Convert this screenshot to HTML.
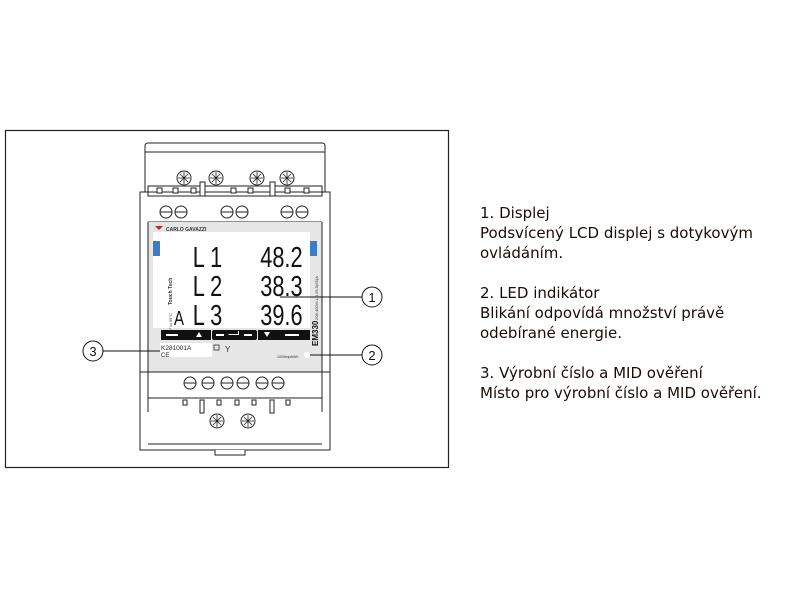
<!DOCTYPE html>
<html><head><meta charset="utf-8"><style>
body{margin:0;background:#fff;width:800px;height:600px;overflow:hidden}
.t{position:absolute;left:480px;font-family:"DejaVu Sans",sans-serif;font-size:15px;color:#1a0c08;line-height:20px;white-space:nowrap}
</style></head><body>
<svg width="800" height="600" style="position:absolute;left:0;top:0" font-family="Liberation Sans, sans-serif">
<rect x="5.5" y="130.5" width="443" height="337" fill="none" stroke="#222" stroke-width="1.2"/>
<g stroke="#222" stroke-width="1" fill="#fff">
<path d="M145 192 V146 Q145 143 148 143 H322 Q325 143 325 146 V192"/>
<line x1="145" y1="152" x2="325" y2="152"/>
<path d="M140 192 V450 H330 V192 Z" fill="none"/>
<rect x="148" y="186" width="174" height="10" fill="#fff"/>
<line x1="148" y1="196" x2="322" y2="196"/>
<line x1="148" y1="222" x2="322" y2="222"/>
<line x1="140" y1="192" x2="330" y2="192"/>
<g fill="#fff"><circle cx="184" cy="178" r="7"/><circle cx="216" cy="178" r="7"/><circle cx="257" cy="178" r="7"/><circle cx="287" cy="178" r="7"/></g>
<g stroke-width="0.8"><path d="M178 178h12M184 172v12M180 174l8 8M188 174l-8 8"/><path d="M210 178h12M216 172v12M212 174l8 8M220 174l-8 8"/><path d="M251 178h12M257 172v12M253 174l8 8M261 174l-8 8"/><path d="M281 178h12M287 172v12M283 174l8 8M291 174l-8 8"/></g>
<g fill="#fff"><rect x="157" y="188" width="5" height="5"/><rect x="173" y="188" width="5" height="5"/><rect x="191" y="188" width="5" height="5"/><rect x="200" y="182" width="5" height="14"/><rect x="231" y="188" width="5" height="5"/><rect x="248" y="188" width="5" height="5"/><rect x="270" y="182" width="5" height="14"/><rect x="285" y="188" width="5" height="5"/><rect x="304" y="188" width="5" height="5"/></g>
<g fill="#fff"><circle cx="166" cy="212" r="6"/><circle cx="181" cy="212" r="6"/><circle cx="227" cy="212" r="6"/><circle cx="242" cy="212" r="6"/><circle cx="287" cy="212" r="6"/><circle cx="302" cy="212" r="6"/></g>
<path d="M160 212h12M175 212h12M221 212h12M236 212h12M281 212h12M296 212h12"/>
<rect x="148" y="222" width="174" height="150" fill="#e6e6e6" stroke="none"/>
<line x1="148" y1="222" x2="148" y2="372"/><line x1="322" y1="222" x2="322" y2="372"/>
<line x1="140" y1="372" x2="330" y2="372"/>
</g>
<rect x="153" y="232" width="157" height="96" fill="#fff"/>
<path d="M155 226 l4 4 l4 -4z" fill="#c0282c"/>
<text x="166" y="231" font-size="5" font-weight="bold" fill="#333">CARLO GAVAZZI</text>
<rect x="153" y="241" width="7" height="15" fill="#3a7cc6"/>
<rect x="310" y="241" width="7" height="15" fill="#3a7cc6"/>
<g font-family="Liberation Sans Narrow, Liberation Sans, sans-serif" font-size="29" fill="#111" transform="scale(0.75,1)">
<text x="257" y="267">L 1</text><text x="257" y="296">L 2</text><text x="257" y="325">L 3</text>
<text x="347" y="267">48.2</text><text x="347" y="296">38.3</text><text x="347" y="325">39.6</text>
<text x="232" y="325" font-size="20">A</text>
</g>
<text transform="translate(172,305) rotate(-90)" font-size="5" font-weight="bold" fill="#333">Touch Tech</text>
<text transform="translate(172,335) rotate(-90)" font-size="4" fill="#333">-25° to 55°C</text>
<text transform="translate(318,320) rotate(-90)" font-size="4" fill="#333">208-400VLL 0.25-5(65)A</text>
<text transform="translate(318,346) rotate(-90)" font-size="8" font-weight="bold" fill="#111">EM330</text>
<rect x="161" y="330" width="50" height="10" fill="#111"/>
<rect x="212" y="330" width="45" height="10" fill="#111" rx="2"/>
<rect x="258" y="330" width="52" height="10" fill="#111"/>
<g fill="#fff"><rect x="166" y="334" width="12" height="2"/><rect x="216" y="334" width="8" height="2"/><rect x="244" y="334" width="8" height="2"/><rect x="285" y="334" width="14" height="2"/>
<path d="M196 337l3-5l3 5z"/><path d="M264 332l3 5l3-5z"/><path d="M228 334h10v-3h1v4h-10z"/></g>
<rect x="160" y="343" width="52" height="14" fill="#fff"/>
<text x="161" y="350" font-size="6.5" fill="#222">K281001A</text>
<text x="161" y="357" font-size="6" fill="#222">CE</text>
<rect x="214" y="345" width="5" height="5" fill="none" stroke="#333" stroke-width="0.8"/>
<text x="225" y="352" font-size="8" fill="#333">Y</text>
<text x="277" y="358" font-size="3.5" fill="#333">1000imp/kWh</text>
<circle cx="307" cy="355" r="3" fill="#fff"/>
<g stroke="#222" stroke-width="1" fill="#fff">
<g><circle cx="190" cy="383" r="6"/><circle cx="208" cy="383" r="6"/><circle cx="227" cy="383" r="6"/><circle cx="243" cy="383" r="6"/><circle cx="262" cy="383" r="6"/><circle cx="278" cy="383" r="6"/></g>
<path d="M184 383h12M202 383h12M221 383h12M237 383h12M256 383h12M272 383h12"/>
<line x1="148" y1="398" x2="322" y2="398"/>
<line x1="148" y1="372" x2="148" y2="412"/><line x1="322" y1="372" x2="322" y2="412"/>
<rect x="183" y="400" width="4" height="5"/><rect x="200" y="400" width="4" height="13"/><rect x="217" y="400" width="4" height="5"/><rect x="235" y="400" width="4" height="5"/><rect x="252" y="400" width="4" height="5"/><rect x="270" y="400" width="4" height="13"/><rect x="286" y="400" width="4" height="5"/>
<circle cx="217" cy="421" r="7"/><circle cx="248" cy="421" r="7"/>
<path stroke-width="0.8" d="M211 421h12M217 415v12M213 417l8 8M221 417l-8 8M242 421h12M248 415v12M244 417l8 8M252 417l-8 8"/>
<line x1="148" y1="444" x2="322" y2="444"/>
<path d="M215 450v5h30v-5" fill="#fff"/>
</g>
<g stroke="#111" stroke-width="1" fill="#fff">
<line x1="280" y1="297" x2="362" y2="297"/><circle cx="372" cy="297" r="10"/>
<line x1="310" y1="355" x2="362" y2="355"/><circle cx="372" cy="355" r="10"/>
<line x1="103" y1="351" x2="160" y2="351"/><circle cx="93" cy="351" r="10"/>
</g>
<g font-size="13" fill="#111" text-anchor="middle"><text x="372" y="302">1</text><text x="372" y="360">2</text><text x="93" y="356">3</text></g>
</svg>
<div class="t" style="top:203px">1. Displej<br>Podsvícený LCD displej s dotykovým<br>ovládáním.<br><br>2. LED indikátor<br>Blikání odpovídá množství právě<br>odebírané energie.<br><br>3. Výrobní číslo a MID ověření<br>Místo pro výrobní číslo a MID ověření.</div>
</body></html>
